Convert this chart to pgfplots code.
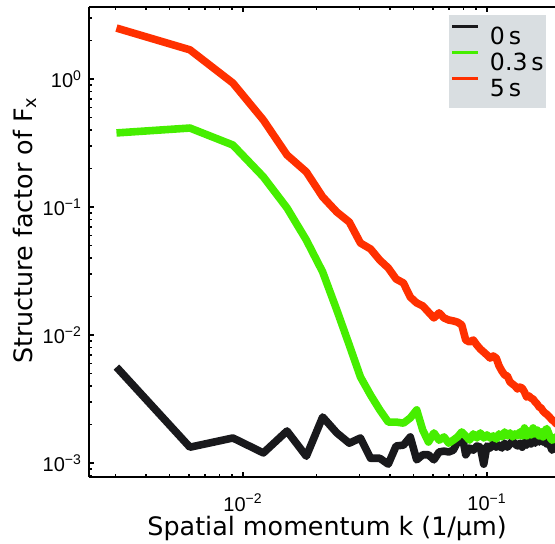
\documentclass[border=0pt]{standalone}
\usepackage{fontspec}
\setmainfont{DejaVu Sans}
\newfontfamily\tickfont{Liberation Sans}
\usepackage{pgfplots}
\pgfplotsset{compat=1.18}
\usepackage{pgfplotstable}
\definecolor{cblack}{RGB}{25,25,28}
\definecolor{cgreen}{RGB}{70,238,0}
\definecolor{cred}{RGB}{255,48,0}
\definecolor{legbg}{RGB}{217,222,225}

\pgfplotstableread{
k black green red
0.00303 0.00562 0.379 2.50
0.00606 0.00133 0.414 1.69
0.00909 0.00157 0.305 0.93
0.01212 0.00120 0.172 0.478
0.01515 0.00178 0.0983 0.255
0.01818 0.00113 0.0552 0.188
0.02121 0.00229 0.0311 0.120
0.02424 0.00172 0.01567 0.0914
0.02727 0.00143 0.00835 0.0763
0.03030 0.00157 0.00470 0.0523
0.03333 0.00109 0.00340 0.0470
0.03636 0.00109 0.00260 0.0385
0.03939 0.00098 0.00209 0.0334
0.04242 0.00136 0.00209 0.0274
0.04545 0.00138 0.00205 0.0255
0.04848 0.00160 0.00225 0.0198
0.05151 0.00106 0.00260 0.0178
0.05454 0.00116 0.00181 0.0169
0.05757 0.00116 0.00146 0.0151
0.06060 0.00106 0.00172 0.0136
0.06363 0.00122 0.00151 0.0149
0.06666 0.00124 0.00160 0.0136
0.06969 0.00122 0.00143 0.0131
0.07272 0.00126 0.00151 0.0129
0.07575 0.00146 0.00160 0.0126
0.07878 0.00172 0.00175 0.0120
0.08181 0.00116 0.00163 0.00914
0.08484 0.00131 0.00151 0.00882
0.08787 0.00126 0.00169 0.00914
0.09090 0.00136 0.00157 0.00835
0.09393 0.00133 0.00172 0.00777
0.09696 0.00098 0.00157 0.00736
0.09999 0.00136 0.00166 0.00698
0.10302 0.00131 0.00157 0.00661
0.10605 0.00141 0.00163 0.00686
0.10908 0.00133 0.00154 0.00661
0.11211 0.00138 0.00169 0.00573
0.11514 0.00131 0.00160 0.00523
0.11817 0.00143 0.00175 0.00487
0.12120 0.00133 0.00163 0.00478
0.12423 0.00141 0.00172 0.00430
0.12726 0.00149 0.00160 0.00414
0.13029 0.00141 0.00169 0.00400
0.13332 0.00136 0.00163 0.00379
0.13635 0.00143 0.00175 0.00392
0.13938 0.00133 0.00163 0.00385
0.14241 0.00146 0.00188 0.00359
0.14544 0.00138 0.00163 0.00328
0.14847 0.00151 0.00178 0.00334
0.15150 0.00141 0.00166 0.00322
0.15453 0.00151 0.00188 0.00316
0.15756 0.00143 0.00169 0.00300
0.16059 0.00154 0.00181 0.00289
0.16362 0.00146 0.00163 0.00274
0.16665 0.00157 0.00175 0.00269
0.16968 0.00146 0.00160 0.00255
0.17271 0.00151 0.00178 0.00246
0.17574 0.00141 0.00186 0.00241
0.17877 0.00151 0.00172 0.00233
0.18180 0.00136 0.00157 0.00225
0.18483 0.00126 0.00151 0.00217
0.18786 0.00131 0.00154 0.00213
0.19089 0.00136 0.00160 0.00205
0.19392 0.00136 0.00160 0.00201
}\datatable

\begin{document}
\begin{tikzpicture}
\useasboundingbox (-44.5pt,-33pt) rectangle (233pt,238.5pt);
\begin{axis}[
  at={(0,0)}, anchor=south west,
  scale only axis, width=233pt, height=235pt,
  xmode=log, ymode=log,
  xmin=0.002338, xmax=0.19, ymin=7.78e-4, ymax=3.65,
  axis x line*=box, axis y line*=left,
  every outer x axis line/.append style={-},
  every outer y axis line/.append style={-},
  axis line style={line width=1pt, black, -},
  tick align=inside,
  major tick length=2.6pt, minor tick length=1.4pt,
  tick style={line width=0.8pt, black},
  xtick={0.01,0.1},
  xticklabels={10\textsuperscript{−2},10\textsuperscript{−1}},
  minor xtick={0.003,0.004,0.005,0.006,0.007,0.008,0.009,0.02,0.03,0.04,0.05,0.06,0.07,0.08,0.09},
  ytick={0.001,0.01,0.1,1},
  yticklabels={10\textsuperscript{−3},10\textsuperscript{−2},10\textsuperscript{−1},10\textsuperscript{0}},
  minor ytick={0.0008,0.0009,0.002,0.003,0.004,0.005,0.006,0.007,0.008,0.009,0.02,0.03,0.04,0.05,0.06,0.07,0.08,0.09,0.2,0.3,0.4,0.5,0.6,0.7,0.8,0.9,2,3},
  tick label style={font=\tickfont\fontsize{10}{12}\selectfont},
  xticklabel style={yshift=-5pt},
  xlabel={Spatial momentum k (1/μm)},
  ylabel={Structure factor of F\textsubscript{x}},
  every axis x label/.style={at={(axis description cs:0.511,-0.1234)}, anchor=base, font=\fontsize{12.7}{14}\selectfont},
  every axis y label/.style={at={(axis description cs:-0.1202,0.525)}, anchor=base, rotate=90, font=\fontsize{12.7}{14}\selectfont},
  legend style={at={(axis description cs:0.7725,0.983)}, anchor=north west,
    fill=legbg, draw=none, font=\fontsize{11.8}{13}\selectfont,
    inner xsep=1pt, inner ysep=3.75pt, row sep=0pt, outer sep=0pt,
    nodes={inner sep=0pt, text height=10.75pt, text depth=2.25pt},
    /tikz/every odd column/.append style={column sep=5pt}},
  legend cell align=left,
  legend image code/.code={\draw[#1, line width=1.5pt] (0pt,4.3pt) -- (13pt,4.3pt);},
]
\addplot[cblack, line width=3.8pt, line join=round] table[x=k,y=black]{\datatable};
\addlegendentry{0\,s}
\addplot[cgreen, line width=3.8pt, line join=round] table[x=k,y=green]{\datatable};
\addlegendentry{0.3\,s}
\addplot[cred, line width=3.8pt, line join=round] table[x=k,y=red]{\datatable};
\addlegendentry{5\,s}
\end{axis}
\end{tikzpicture}
\end{document}
